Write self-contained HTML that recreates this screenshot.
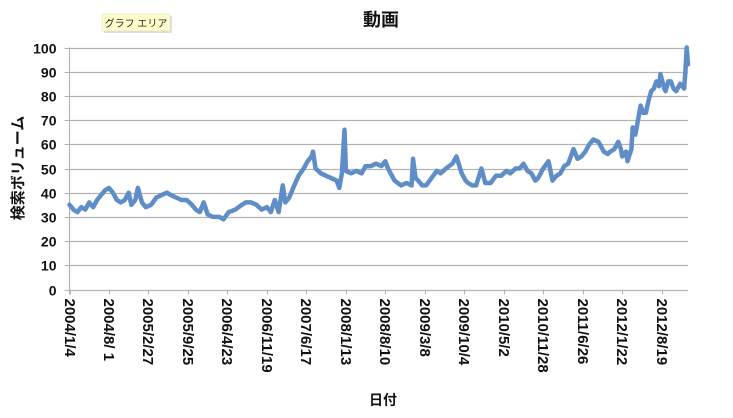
<!DOCTYPE html>
<html><head><meta charset="utf-8">
<style>
html,body{margin:0;padding:0;background:#fff;}
svg{display:block;font-family:"Liberation Sans","Noto Sans CJK JP",sans-serif;}
</style></head>
<body>
<svg id="chart" width="733" height="418" viewBox="0 0 733 418" xmlns="http://www.w3.org/2000/svg">
<text x="381" y="26" text-anchor="middle" font-size="18" font-weight="bold" fill="#111">動画</text>
<g>
<rect x="104" y="16" width="68" height="17" fill="#000" opacity="0.12"/>
<rect x="102" y="14" width="68" height="17" fill="#ffffcc" stroke="#d8d8b0" stroke-width="0.5"/>
<text x="136" y="27" text-anchor="middle" font-size="10" fill="#222">グラフ エリア</text>
</g>
<g id="grid"></g>
<g id="yaxis"></g>
<g id="xaxis"></g>
<g id="series"></g>
<text transform="translate(23,168) rotate(-90)" text-anchor="middle" font-size="15" font-weight="bold" fill="#111">検索ボリューム</text>
<text x="383" y="405" text-anchor="middle" font-size="14" font-weight="bold" fill="#111">日付</text>
</svg>
<script>
const yTicks = [0,10,20,30,40,50,60,70,80,90,100];
const xTickLabels = ["2004/1/4","2004/8/ 1","2005/2/27","2005/9/25","2006/4/23","2006/11/19","2007/6/17","2008/1/13","2008/8/10","2009/3/8","2009/10/4","2010/5/2","2010/11/28","2011/6/26","2012/1/22","2012/8/19"];
const xTickWeeks = [0,30,60,90,120,150,180,210,240,270,300,330,360,390,420,450];
const weeks = [0,3,6,9,12,15,18,21,24,27,30,33,36,39,42,45,47,50,52,55,58,62,66,70,74,77,81,85,89,93,96,99,102,105,109,114,117,121,126,131,134,138,142,146,150,153,156,159,162,164,167,170,174,178,181,184,185,187,191,195,199,203,205,207,209,210,214,218,222,225,229,233,237,240,242,247,252,256,260,261,263,265,268,271,275,279,282,286,291,294,298,301,303,306,309,313,316,320,324,328,332,335,339,342,345,348,351,354,356,360,364,367,370,373,376,379,383,386,389,392,395,398,402,404,406,409,411,414,417,419,420,423,424,427,428,430,434,436,438,440,442,444,446,448,449,452,453,455,457,459,461,463,464,467,468,469,470];
const values = [35,33,32,34,33,36,34,37,39,41,42,40,37,36,37,40,35,37,42,36,34,35,38,39,40,39,38,37,37,35,33,32,36,31,30,30,29,32,33,35,36,36,35,33,34,32,37,32,43,36,38,42,47,50,53,55,57,50,48,47,46,45,42,48,66,49,48,49,48,51,51,52,51,53,50,45,43,44,43,54,46,45,43,43,46,49,48,50,52,55,48,45,44,43,43,50,44,44,47,47,49,48,50,50,52,49,48,45,46,50,53,45,47,48,51,52,58,54,55,57,60,62,61,59,57,56,57,58,61,58,55,57,53,58,67,64,76,73,73,78,82,83,86,84,89,83,82,86,86,83,82,84,85,83,90,100,93];

const NS="http://www.w3.org/2000/svg";
const L=69.5,R=688,T=47.5,B=289.5,W0=0,W1=470;
const xs=w=>L+(w-W0)/(W1-W0)*(R-L);
const ys=v=>B-v/100*(B-T);
function mk(tag,attrs,parent){const e=document.createElementNS(NS,tag);for(const k in attrs)e.setAttribute(k,attrs[k]);parent.appendChild(e);return e;}
const grid=document.getElementById('grid'),ya=document.getElementById('yaxis'),xa=document.getElementById('xaxis'),se=document.getElementById('series');
yTicks.forEach(v=>{
  const y=Math.round(ys(v))+0.5;
  const g=mk('line',{x1:L,x2:R,y1:y,y2:y,stroke:'#b3b3b3','stroke-width':1.2},grid);
  
  
  mk('line',{x1:L-5,x2:L,y1:y,y2:y,stroke:'#b3b3b3','stroke-width':1},ya);
  const t=mk('text',{x:L-13,y:y+5,'text-anchor':'end','font-size':14,'font-weight':'bold',fill:'#111'},ya);
  t.textContent=v;
  
  
});
mk('line',{x1:L,x2:L,y1:T,y2:B+5,stroke:'#b3b3b3','stroke-width':1.2},ya);
xTickWeeks.forEach((w,i)=>{
  const x=Math.round(xs(w))+0.5;
  mk('line',{x1:x,x2:x,y1:B,y2:B+5,stroke:'#b3b3b3','stroke-width':1},xa);
  const t=mk('text',{transform:`translate(${x-5.5},${B+9}) rotate(90)`,'text-anchor':'start','font-size':15,'font-weight':'bold',fill:'#111'},xa);
  t.textContent=xTickLabels[i];
  
  
});
const d=weeks.map((w,i)=>(i?'L':'M')+xs(w).toFixed(1)+','+ys(values[i]).toFixed(1)).join(' ');
const p=mk('path',{d:d,fill:'none',stroke:'#5f8dc8','stroke-width':4.5,'stroke-linejoin':'round','stroke-linecap':'round'},se);


</script>
</body></html>
